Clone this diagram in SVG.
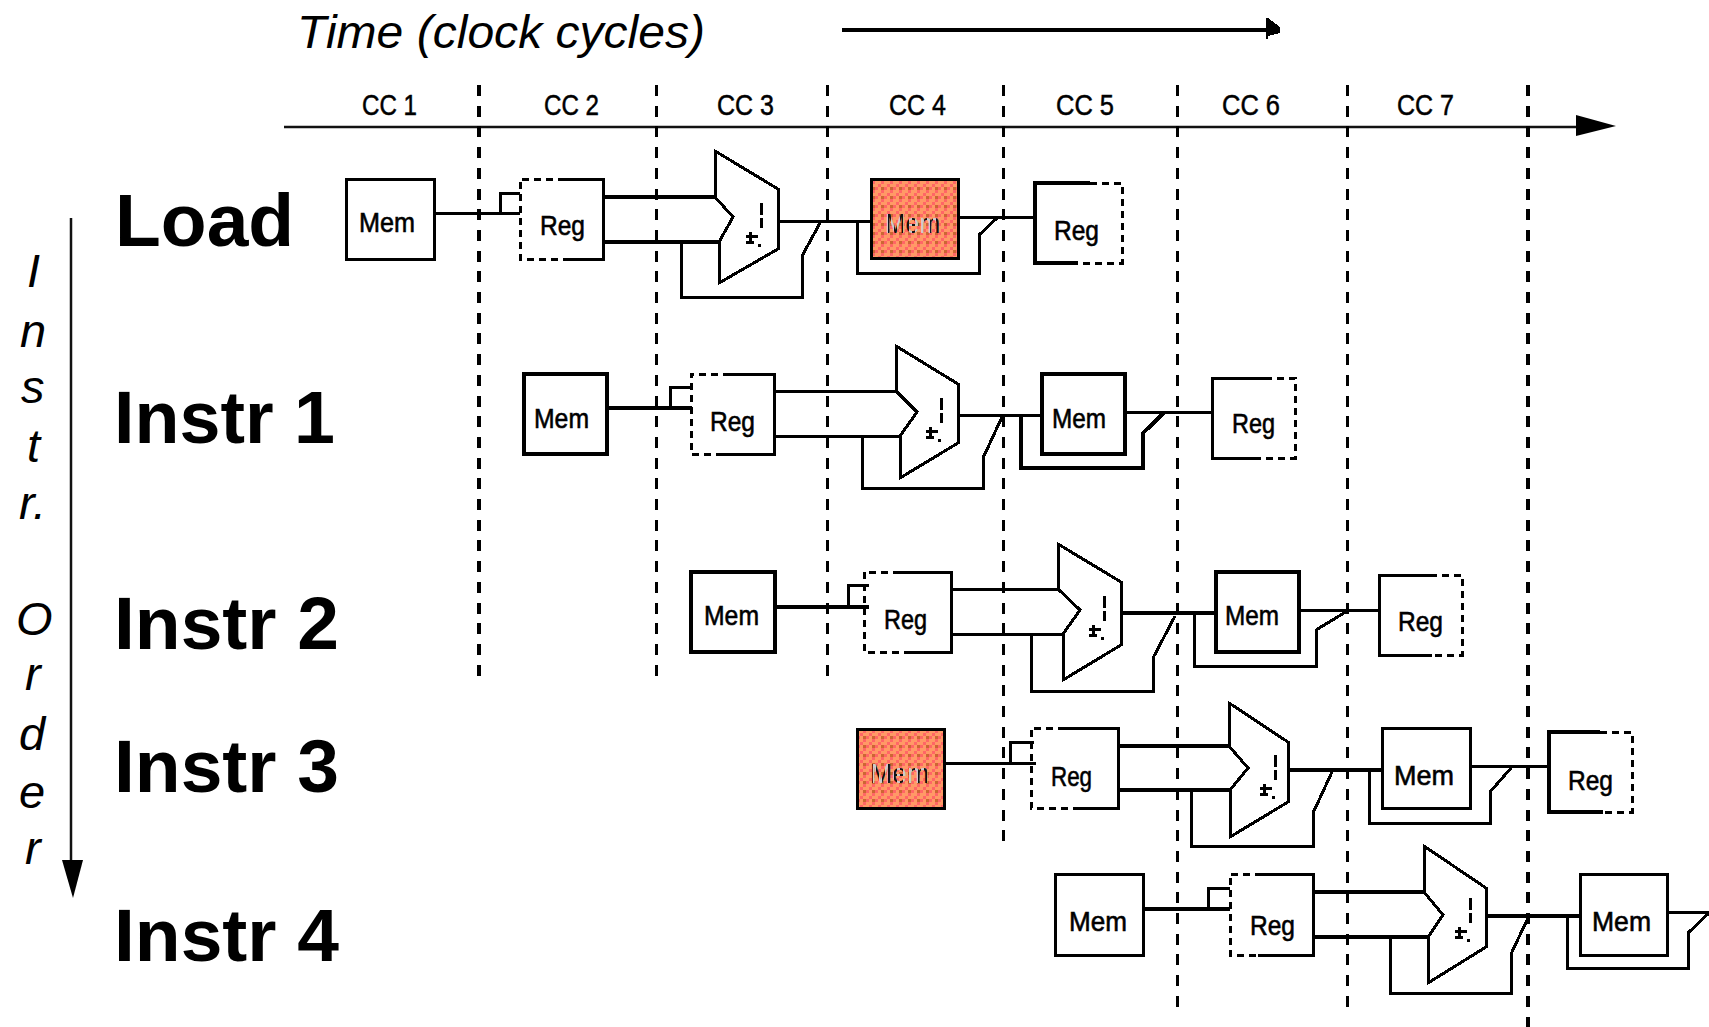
<svg xmlns="http://www.w3.org/2000/svg" xmlns:xlink="http://www.w3.org/1999/xlink" width="1709" height="1027" viewBox="0 0 1709 1027">
<style>
.bg{fill:#fff}
.ln{fill:none;stroke:#000;stroke-width:3;shape-rendering:crispEdges}
.th{stroke-width:4}
.box{fill:#fff;stroke:#000;stroke-width:3;shape-rendering:crispEdges}
.hot{fill:url(#mempat);stroke:#000;stroke-width:3;shape-rendering:crispEdges}
.edge{fill:none;stroke:#000;stroke-width:3;shape-rendering:crispEdges}
.dsh{stroke-dasharray:7 5}
.alu{fill:#fff;stroke:#000;stroke-width:3;stroke-linejoin:miter;shape-rendering:crispEdges}
.cut{fill:none;stroke:#000;stroke-width:3;shape-rendering:crispEdges;stroke-dasharray:11 9.7}
.axis{fill:none;stroke:#111;stroke-width:2.5}
.big{font:bold 75px "Liberation Sans",Arial,sans-serif;fill:#000}
.it{font:italic 47px "Liberation Sans",Arial,sans-serif;fill:#000}
.cc{font:29px "Liberation Sans",Arial,sans-serif;fill:#000;stroke:#000;stroke-width:.5}
.lb{font:28px "Liberation Sans",Arial,sans-serif;fill:#000;stroke:#000;stroke-width:.6}
.lbh{font:28px "Liberation Sans",Arial,sans-serif;fill:url(#txtpat)}
</style>
<defs>
<pattern id="mempat" patternUnits="userSpaceOnUse" x="875" y="181" width="9" height="9">
<rect width="9" height="9" fill="#ff9966"/>
<rect x="6" y="0" width="3" height="3" fill="#ff6666"/>
<rect x="0" y="6" width="3" height="3" fill="#ff6666"/>
<rect x="3" y="3" width="3" height="3" fill="#ff6666"/>
<rect x="6" y="6" width="3" height="3" fill="#cc6633"/>
</pattern>
<pattern id="txtpat" patternUnits="userSpaceOnUse" width="6" height="6">
<rect width="6" height="6" fill="#111"/>
<rect x="3" width="3" height="6" fill="#ccc"/>
</pattern>
<g id="alumark" style="fill:none;stroke:#000;stroke-width:3;shape-rendering:crispEdges">
<path d="M46 52V64M46 67V77"/>
<path d="M31 85H43M35 81V92M31 91H39M44 93V96"/>
</g>
</defs>
<rect class="bg" width="1709" height="1027"/>

<g id="time-axis">
<text class="it" x="297" y="48" textLength="408" lengthAdjust="spacingAndGlyphs">Time (clock cycles)</text>
<path d="M842 30H1268" fill="none" stroke="#000" stroke-width="4" shape-rendering="crispEdges"/>
<polygon points="1266,18 1268,18 1280,27 1280,33 1268,36 1268,39 1266,39" fill="#000" shape-rendering="crispEdges"/>
<path class="axis" d="M284 127H1580"/>
<polygon points="1576,115 1616,126 1576,136" fill="#000"/>
<text class="cc" x="362" y="115" textLength="55" lengthAdjust="spacingAndGlyphs">CC 1</text>
<text class="cc" x="544" y="115" textLength="55" lengthAdjust="spacingAndGlyphs">CC 2</text>
<text class="cc" x="717" y="115" textLength="57" lengthAdjust="spacingAndGlyphs">CC 3</text>
<text class="cc" x="889" y="115" textLength="57" lengthAdjust="spacingAndGlyphs">CC 4</text>
<text class="cc" x="1056" y="115" textLength="58" lengthAdjust="spacingAndGlyphs">CC 5</text>
<text class="cc" x="1222" y="115" textLength="58" lengthAdjust="spacingAndGlyphs">CC 6</text>
<text class="cc" x="1397" y="115" textLength="57" lengthAdjust="spacingAndGlyphs">CC 7</text>
</g>

<g id="cycle-boundaries">
<path class="cut" style="stroke-width:4" d="M478.5 85V678"/>
<path class="cut" d="M656.5 85V678"/>
<path class="cut" d="M827 85V678"/>
<path class="cut" d="M1003.5 85V844"/>
<path class="cut" d="M1177 85V1008"/>
<path class="cut" d="M1347 85V1008"/>
<path class="cut" style="stroke-width:4" d="M1528 85V1027"/>
</g>

<g id="order-axis">
<path class="axis" d="M71 218V862"/>
<polygon points="62,860 83,860 73,898" fill="#000"/>
<text class="it" x="27" y="287">I</text>
<text class="it" x="20" y="347">n</text>
<text class="it" x="21" y="403">s</text>
<text class="it" x="27" y="462">t</text>
<text class="it" x="19" y="519">r.</text>
<text class="it" x="16" y="635">O</text>
<text class="it" x="25" y="690">r</text>
<text class="it" x="19" y="750">d</text>
<text class="it" x="19" y="808">e</text>
<text class="it" x="25" y="864">r</text>
</g>

<g id="row-labels">
<text class="big" x="115" y="246">Load</text>
<text class="big" x="114" y="443" textLength="221" lengthAdjust="spacingAndGlyphs">Instr 1</text>
<text class="big" x="114" y="649">Instr 2</text>
<text class="big" x="114" y="792">Instr 3</text>
<text class="big" x="114" y="961">Instr 4</text>
</g>

<g id="connectors">
<!-- Load -->
<path class="ln" d="M435 213H520M500 213V193H520"/>
<path class="ln th" d="M604 197H717M604 242H719"/>
<path class="ln" d="M681 242V297H802V256L820 223"/>
<path class="ln" d="M778 221H873"/>
<path class="ln" d="M857 221V273H979V235L997 218"/>
<path class="ln" d="M959 217H1035"/>
<!-- Instr 1 -->
<path class="ln th" d="M607 408H692"/>
<path class="ln" d="M670 408V387H692"/>
<path class="ln" d="M774 391H898M774 436H900"/>
<path class="ln" d="M862 436V488H983V458L1002 417"/>
<path class="ln" d="M959 415H1042"/>
<path class="ln th" d="M1021 415V468H1143V433L1164 413"/>
<path class="ln" d="M1125 412H1213"/>
<!-- Instr 2 -->
<path class="ln th" d="M775 607H869"/>
<path class="ln" d="M848 607V585H869"/>
<path class="ln" d="M952 589H1062M952 634H1063"/>
<path class="ln" d="M1031 634V691H1153V658L1175 616"/>
<path class="ln th" d="M1122 613H1215"/>
<path class="ln" d="M1194 613V666H1316V630L1349 610"/>
<path class="ln" d="M1299 610H1379"/>
<!-- Instr 3 -->
<path class="ln" d="M945 763H1036"/>
<path class="ln" d="M1010 763V742H1034"/>
<path class="ln th" d="M1119 746H1230M1119 790H1230"/>
<path class="ln" d="M1191 790V846H1313V813L1332 772"/>
<path class="ln th" d="M1288 770H1387"/>
<path class="ln" d="M1369 770V823H1490V792L1511 768"/>
<path class="ln" d="M1470 766H1549"/>
<!-- Instr 4 -->
<path class="ln th" d="M1143 909H1230"/>
<path class="ln" d="M1208 909V888H1230"/>
<path class="ln th" d="M1313 892H1428M1313 937H1430"/>
<path class="ln" d="M1390 937V993H1511V954L1528 918"/>
<path class="ln th" d="M1487 916H1584"/>
<path class="ln" d="M1567 916V968H1688V933L1709 913"/>
<path class="ln" d="M1667 912H1709"/>
</g>

<g id="load-if"><rect class="box" x="346" y="179" width="88" height="80"/><text class="lb" x="359" y="232" textLength="56" lengthAdjust="spacingAndGlyphs">Mem</text></g>
<g id="load-id"><path class="edge" d="M565 179H603V259H565"/><path class="edge dsh" d="M565 179H520V259H565"/><text class="lb" x="540" y="235" textLength="45" lengthAdjust="spacingAndGlyphs">Reg</text></g>
<g id="load-ex"><polygon class="alu" points="715,151 778,189 778,249 719,283 719,242 733,217 715,197"/><use href="#alumark" x="715" y="151"/></g>
<g id="load-mem"><rect class="hot" x="871" y="179" width="87" height="79"/><text class="lbh" x="885" y="233" textLength="55" lengthAdjust="spacingAndGlyphs">Mem</text></g>
<g id="load-wb"><path class="edge" style="stroke-width:4" d="M1090 183H1035V263H1078"/><path class="edge dsh" d="M1090 183H1122V263H1078"/><text class="lb" x="1054" y="240" textLength="45" lengthAdjust="spacingAndGlyphs">Reg</text></g>

<g id="i1-if"><rect class="box" style="stroke-width:4" x="524" y="374" width="83" height="80"/><text class="lb" x="534" y="428" textLength="55" lengthAdjust="spacingAndGlyphs">Mem</text></g>
<g id="i1-id"><path class="edge" d="M730 374H774V454H722"/><path class="edge dsh" d="M730 374H691V454H722"/><text class="lb" x="710" y="431" textLength="45" lengthAdjust="spacingAndGlyphs">Reg</text></g>
<g id="i1-ex"><polygon class="alu" points="896,346 958,384 958,443 900,478 900,436 917,412 896,391"/><use href="#alumark" x="895" y="346"/></g>
<g id="i1-mem"><rect class="box" style="stroke-width:4" x="1042" y="374" width="83" height="80"/><text class="lb" x="1052" y="428" textLength="54" lengthAdjust="spacingAndGlyphs">Mem</text></g>
<g id="i1-wb"><path class="edge" d="M1265 378H1212V458H1258"/><path class="edge dsh" d="M1265 378H1295V458H1258"/><text class="lb" x="1232" y="433" textLength="43" lengthAdjust="spacingAndGlyphs">Reg</text></g>

<g id="i2-if"><rect class="box" style="stroke-width:4" x="691" y="572" width="84" height="80"/><text class="lb" x="704" y="625" textLength="55" lengthAdjust="spacingAndGlyphs">Mem</text></g>
<g id="i2-id"><path class="edge" d="M900 572H951V652H905"/><path class="edge dsh" d="M900 572H864V652H905"/><text class="lb" x="884" y="629" textLength="43" lengthAdjust="spacingAndGlyphs">Reg</text></g>
<g id="i2-ex"><polygon class="alu" points="1058,544 1121,582 1121,645 1063,680 1063,634 1080,610 1058,589"/><use href="#alumark" x="1058" y="544"/></g>
<g id="i2-mem"><rect class="box" style="stroke-width:4" x="1216" y="572" width="83" height="80"/><text class="lb" x="1225" y="625" textLength="54" lengthAdjust="spacingAndGlyphs">Mem</text></g>
<g id="i2-wb"><path class="edge" d="M1430 575H1379V655H1432"/><path class="edge dsh" d="M1430 575H1462V655H1432"/><text class="lb" x="1398" y="631" textLength="45" lengthAdjust="spacingAndGlyphs">Reg</text></g>

<g id="i3-if"><rect class="hot" x="857" y="729" width="87" height="79"/><text class="lbh" x="870" y="783" textLength="59" lengthAdjust="spacingAndGlyphs">Mem</text></g>
<g id="i3-id"><path class="edge" d="M1065 728H1118V808H1075"/><path class="edge dsh" d="M1065 728H1031V808H1075"/><text class="lb" x="1051" y="786" textLength="41" lengthAdjust="spacingAndGlyphs">Reg</text></g>
<g id="i3-ex"><polygon class="alu" points="1229,703 1288,742 1288,802 1230,837 1230,790 1248,768 1229,746"/><use href="#alumark" x="1229" y="703"/></g>
<g id="i3-mem"><rect class="box" x="1382" y="728" width="88" height="80"/><text class="lb" x="1394" y="785" textLength="60" lengthAdjust="spacingAndGlyphs">Mem</text></g>
<g id="i3-wb"><path class="edge" style="stroke-width:4" d="M1600 732H1549V812H1603"/><path class="edge dsh" d="M1600 732H1632V812H1603"/><text class="lb" x="1568" y="790" textLength="45" lengthAdjust="spacingAndGlyphs">Reg</text></g>

<g id="i4-if"><rect class="box" x="1055" y="874" width="88" height="81"/><text class="lb" x="1069" y="931" textLength="58" lengthAdjust="spacingAndGlyphs">Mem</text></g>
<g id="i4-id"><path class="edge" d="M1262 874H1313V955H1258"/><path class="edge dsh" d="M1262 874H1230V955H1258"/><text class="lb" x="1250" y="935" textLength="45" lengthAdjust="spacingAndGlyphs">Reg</text></g>
<g id="i4-ex"><polygon class="alu" points="1424,846 1486,888 1486,947 1428,983 1428,937 1443,915 1424,892"/><use href="#alumark" x="1424" y="846"/></g>
<g id="i4-mem"><rect class="box" x="1580" y="874" width="87" height="81"/><text class="lb" x="1592" y="931" textLength="59" lengthAdjust="spacingAndGlyphs">Mem</text></g>
</svg>
